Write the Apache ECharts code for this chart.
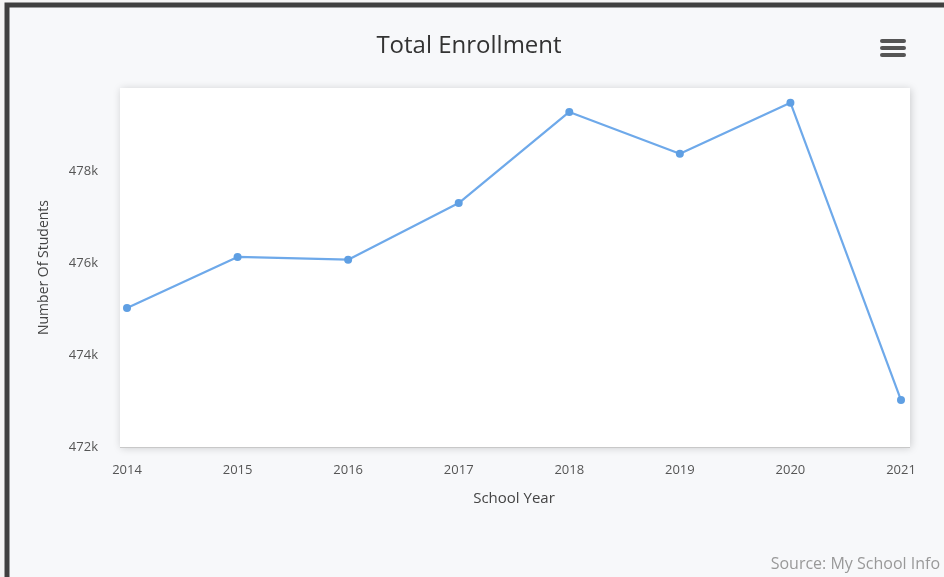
<!DOCTYPE html>
<html>
<head>
<meta charset="utf-8">
<script src="https://cdn.jsdelivr.net/npm/echarts@6/dist/echarts.min.js"></script>
<style>
html,body{margin:0;padding:0;background:#f5f5f5;}
#main{width:944px;height:577px;}
</style>
</head>
<body>
<div id="main"></div>
<script>
const years = ['2014','2015','2016','2017','2018','2019','2020','2021'];
const enrollment = [475020, 476130, 476070, 477300, 479280, 478370, 479480, 473020];
const yTicks = [472000, 474000, 476000, 478000];
const titleText = 'Total Enrollment';
const yName = 'Number Of Students';
const xName = 'School Year';
const sourceText = 'Source: My School Info';

const chart = echarts.init(document.getElementById('main'));
const FONT = '"Open Sans", "Noto Sans", sans-serif';
chart.setOption({
  animation: false,
  backgroundColor: '#f5f5f5',
  textStyle: {fontFamily: FONT},
  title: {
    text: titleText, left: 464, top: 29, textAlign: 'center',
    textStyle: {fontFamily: FONT, fontSize: 24, fontWeight: 'normal', color: '#333'}
  },
  graphic: [
    {type: 'rect', z: -30, shape: {x: 7, y: 5, width: 960, height: 600},
     style: {fill: '#f7f8fa', stroke: '#404040', lineWidth: 5}},
    {type: 'rect', z: -20, shape: {x: 120, y: 88, width: 790, height: 359},
     style: {fill: '#ffffff', shadowBlur: 8, shadowColor: 'rgba(0,0,0,0.18)', shadowOffsetX: 1, shadowOffsetY: 1}},
    {type: 'line', z: -10, shape: {x1: 120, y1: 447.5, x2: 910, y2: 447.5},
     style: {stroke: '#c8c8c8', lineWidth: 1}},
    {type: 'rect', z: 10, shape: {x: 880, y: 39, width: 26, height: 4, r: 2}, style: {fill: '#555'}},
    {type: 'rect', z: 10, shape: {x: 880, y: 46, width: 26, height: 4, r: 2}, style: {fill: '#555'}},
    {type: 'rect', z: 10, shape: {x: 880, y: 53, width: 26, height: 4, r: 2}, style: {fill: '#555'}},
    {type: 'text', z: 10, right: 4, bottom: 5,
     style: {text: sourceText, fill: '#999', font: '16px ' + FONT}}
  ],
  grid: {left: 127, right: 43, top: 88, bottom: 130},
  xAxis: {
    type: 'category', data: years, boundaryGap: false,
    axisLine: {show: false}, axisTick: {show: false},
    axisLabel: {color: '#555', fontSize: 13, margin: 17},
    name: xName, nameLocation: 'middle', nameGap: 44,
    nameTextStyle: {color: '#444', fontSize: 15}
  },
  yAxis: {
    type: 'value', min: 472000, max: 479800, interval: 2000,
    axisLine: {show: false}, axisTick: {show: false}, splitLine: {show: false},
    axisLabel: {color: '#555', fontSize: 13, margin: 29, showMaxLabel: false,
      formatter: v => yTicks.includes(v) ? (v/1000) + 'k' : ''},
    name: yName, nameLocation: 'middle', nameGap: 76,
    nameTextStyle: {color: '#444', fontSize: 14}
  },
  series: [{
    type: 'line', data: enrollment,
    symbol: 'circle', symbolSize: 8,
    lineStyle: {color: '#6ea9ea', width: 2.2},
    itemStyle: {color: '#5f9fe3'}
  }]
});
</script>
</body>
</html>
